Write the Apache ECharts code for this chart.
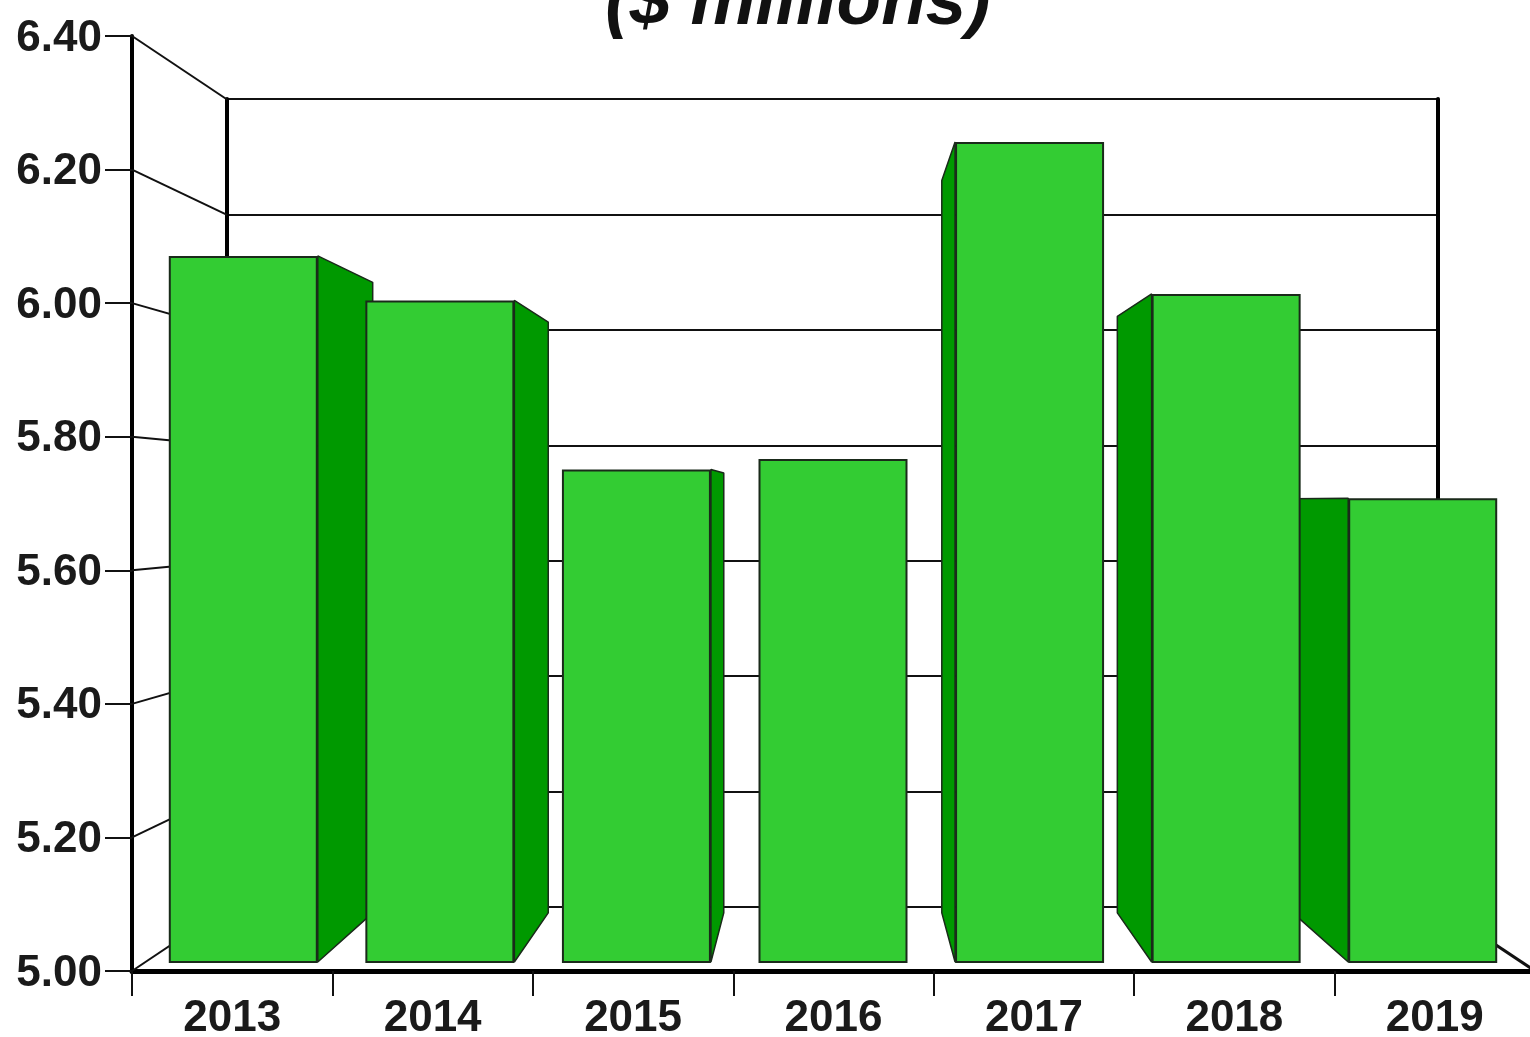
<!DOCTYPE html>
<html>
<head>
<meta charset="utf-8">
<style>html,body{margin:0;padding:0;background:#fff}#chart{width:1530px;height:1037px}</style>
<script src="https://cdn.jsdelivr.net/npm/echarts@6/dist/echarts.min.js"></script>
</head>
<body>
<div id="chart"></div>
<script>
var years = ['2013', '2014', '2015', '2016', '2017', '2018', '2019'];
var revenue = [6.078, 6.01, 5.752, 5.768, 6.252, 6.02, 5.708];
var yTicks = [5.0, 5.2, 5.4, 5.6, 5.8, 6.0, 6.2, 6.4];

var chart = echarts.init(document.getElementById('chart'));

// the picture is a fake 3D box, everything shrinks toward one point
var vpX = 831, vpY = 503;
var wallDepth = 0.136, barDepth = 0.107;
var barWidth = 149;
var fontName = '"Liberation Sans", Arial, sans-serif';

function toward(x, y, t) {
    return [x + (vpX - x) * t, y + (vpY - y) * t];
}

function valueAxis(idx, extra) {
    return Object.assign({
        type: 'value', gridIndex: idx, min: 5, max: 6.4, interval: 0.2,
        axisLabel: { show: false }, axisTick: { show: false },
        axisLine: { show: false }, splitLine: { show: false }
    }, extra);
}

function catAxis(idx, extra) {
    return Object.assign({ type: 'category', gridIndex: idx, data: years, show: false }, extra);
}

// lines from the axis ticks back to the wall
function renderWallLine(params, api) {
    var p = api.coord([0, api.value(0)]);
    var x = params.coordSys.x;
    var back = toward(x, p[1], wallDepth);
    return { type: 'line', shape: { x1: x, y1: p[1], x2: back[0], y2: back[1] },
        style: { stroke: '#111', lineWidth: 2 } };
}

function renderFloorRight(params, api) {
    var r = params.coordSys;
    var y = r.y + r.height;
    var back = toward(r.x + r.width, y, wallDepth);
    return { type: 'line', shape: { x1: r.x + r.width, y1: y, x2: back[0], y2: back[1] },
        style: { stroke: '#111', lineWidth: 3 } };
}

// dark side of a bar, only the side that faces the vanishing point
function renderSide(params, api) {
    var top = api.coord([api.value(0), api.value(1)]);
    var bottom = api.coord([api.value(0), 5]);
    var edge;
    if (top[0] + barWidth / 2 < vpX) edge = top[0] + barWidth / 2;
    else if (top[0] - barWidth / 2 > vpX) edge = top[0] - barWidth / 2;
    else return null;
    var a = toward(edge, top[1], barDepth);
    var b = toward(edge, bottom[1], barDepth);
    return { type: 'polygon',
        shape: { points: [[edge, top[1]], a, b, [edge, bottom[1]]] },
        style: { fill: '#009900', stroke: '#1a2a1a', lineWidth: 1.5, lineJoin: 'bevel' } };
}

chart.setOption({
    animation: false,
    backgroundColor: '#fff',
    title: {
        text: '($ millions)', left: 793, top: -38, textAlign: 'center',
        textStyle: { fontFamily: fontName, fontSize: 73, fontWeight: 'bold', fontStyle: 'italic', color: '#111' }
    },
    grid: [
        { left: 132, top: 36, width: 1403, height: 935, outerBoundsMode: 'none' },
        { left: 145, top: 45, width: 1376, height: 917, outerBoundsMode: 'none' },
        { left: 227, top: 99, width: 1211, height: 808, outerBoundsMode: 'none' }
    ],
    xAxis: [
        {
            type: 'category', gridIndex: 0, data: years, boundaryGap: true,
            axisLine: { lineStyle: { color: '#000', width: 5 } },
            axisTick: { show: true, length: 25, lineStyle: { color: '#111', width: 2 } },
            axisLabel: { fontFamily: fontName, fontSize: 44, fontWeight: 'bold', color: '#1a1a1a', margin: 26, interval: 0 }
        },
        catAxis(1),
        catAxis(2)
    ],
    yAxis: [
        valueAxis(0, {
            axisLine: { show: true, onZero: false, lineStyle: { color: '#000', width: 4 } },
            axisTick: { show: true, length: 27, lineStyle: { color: '#111', width: 2 } },
            axisLabel: {
                show: true, fontFamily: fontName, fontSize: 44, fontWeight: 'bold', color: '#1a1a1a', margin: 30,
                verticalAlign: 'top', lineHeight: 5,
                formatter: function (v) { return v.toFixed(2); }
            }
        }),
        valueAxis(1),
        valueAxis(2, {
            axisLine: { show: true, onZero: false, lineStyle: { color: '#000', width: 4 } },
            splitLine: { show: true, lineStyle: { color: '#111', width: 2 } }
        }),
        valueAxis(2, {
            position: 'right',
            axisLine: { show: true, onZero: false, lineStyle: { color: '#000', width: 4 } }
        })
    ],
    series: [
        {
            type: 'custom', xAxisIndex: 0, yAxisIndex: 0, z: 1, clip: false,
            renderItem: renderWallLine,
            encode: { y: 0 },
            data: yTicks.map(function (v) { return [v]; })
        },
        {
            type: 'custom', xAxisIndex: 0, yAxisIndex: 0, z: 1, clip: false,
            renderItem: renderFloorRight,
            data: [[5]]
        },
        {
            type: 'custom', xAxisIndex: 1, yAxisIndex: 1, z: 2, clip: false,
            renderItem: renderSide,
            encode: { x: 0, y: 1 },
            data: revenue.map(function (v, i) { return [i, v]; })
        },
        {
            type: 'bar', xAxisIndex: 1, yAxisIndex: 1, z: 3,
            barWidth: barWidth,
            itemStyle: { color: '#33CC33', borderColor: '#1a2a1a', borderWidth: 2 },
            data: revenue
        }
    ]
});
</script>
</body>
</html>
